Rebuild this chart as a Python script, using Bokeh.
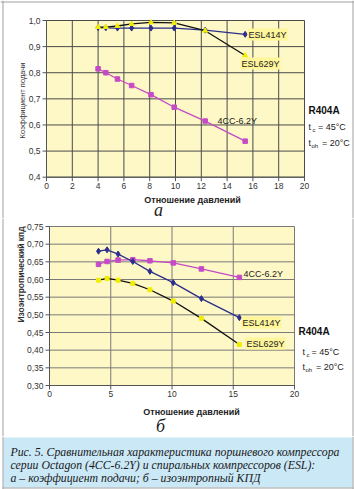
from math import pi
from bokeh.plotting import figure
from bokeh.models import Range1d, Label, Span
from bokeh.core.properties import value
from bokeh.layouts import column
from bokeh.embed import file_html
from bokeh.resources import INLINE

# ---------------- data: chart a (volumetric efficiency) ----------------
x_a = [4.0, 4.6, 5.5, 6.6, 8.1, 9.9, 12.3, 15.4]
esl414_a = [0.973, 0.972, 0.971, 0.971, 0.971, 0.971, 0.963, 0.947]
esl629_a = [0.975, 0.975, 0.979, 0.987, 0.993, 0.991, 0.961, 0.866]
cc4_a = [0.815, 0.800, 0.776, 0.751, 0.716, 0.668, 0.615, 0.538]
x_ticks_a = [0, 2, 4, 6, 8, 10, 12, 14, 16, 18, 20]
x_labels_a = ["0", "2", "4", "6", "8", "10", "12", "14", "16", "18", "20"]
y_ticks_a = [0.4, 0.5, 0.6, 0.7, 0.8, 0.9, 1.0]
y_labels_a = ["0,4", "0,5", "0,6", "0,7", "0,8", "0,9", "1,0"]

# ---------------- data: chart b (isentropic efficiency) ----------------
x_b = [4.0, 4.7, 5.6, 6.8, 8.2, 10.1, 12.4, 15.5]
esl414_b = [0.680, 0.684, 0.672, 0.651, 0.623, 0.591, 0.546, 0.492]
esl629_b = [0.598, 0.603, 0.598, 0.589, 0.571, 0.539, 0.490, 0.416]
cc4_b = [0.643, 0.651, 0.655, 0.656, 0.653, 0.647, 0.630, 0.606]
x_ticks_b = [0, 5, 10, 15, 20]
x_labels_b = ["0", "5", "10", "15", "20"]
y_ticks_b = [0.30, 0.35, 0.40, 0.45, 0.50, 0.55, 0.60, 0.65, 0.70, 0.75]
y_labels_b = ["0,30", "0,35", "0,40", "0,45", "0,50", "0,55", "0,60", "0,65", "0,70", "0,75"]

caption_lines = [
    "Рис. 5. Сравнительная характеристика поршневого компрессора",
    "серии Octagon (4CC-6.2Y) и спиральных компрессоров (ESL):",
    "а \u2013 коэффициент подачи; б \u2013 изоэнтропный КПД",
]

BLUE = "#2B2F8C"
MAGENTA = "#C64AC6"
YEL = "#F2EE00"
PLOT_BG = "#FDF8C6"
HILITE = "#FFF59A"
CAP_BG = "#CBE8F7"
FRAME_GRAY = "#a0a0a0"
SANS = "Liberation Sans"
SERIF = "Liberation Serif"
W = 354


class Chart:
    """A figure whose frame fills the whole canvas; the data box sits at a pixel box."""

    def __init__(self, H, box, xlim, ylim):
        l, r, t, b = box
        self.l, self.t = l, t
        self.xlim, self.ylim = xlim, ylim
        self.sx = (r - l) / (xlim[1] - xlim[0])
        self.sy = (b - t) / (ylim[1] - ylim[0])
        xr = Range1d(xlim[0] - l / self.sx, xlim[1] + (W - r) / self.sx)
        yr = Range1d(ylim[0] - (H - b) / self.sy, ylim[1] + t / self.sy)
        self.p = figure(width=W, height=H, x_range=xr, y_range=yr,
                        output_backend="svg", toolbar_location=None,
                        x_axis_type=None, y_axis_type=None,
                        min_border=0, min_border_left=0, min_border_right=0,
                        min_border_top=0, min_border_bottom=0,
                        background_fill_color="white", border_fill_color="white",
                        outline_line_color=None, frame_align=False)
        self.p.grid.visible = False

    def X(self, px):
        return self.xlim[0] + (px - self.l) / self.sx

    def Y(self, py):
        return self.ylim[1] - (py - self.t) / self.sy

    def label(self, px, py, text, size="9px", style="normal", font=SANS, align="left",
              angle=0.0, bg=None, color="#222222"):
        kw = {}
        if bg is not None:
            kw = dict(background_fill_color=bg, padding=1)
        self.p.add_layout(Label(x=self.X(px), y=self.Y(py), text=text, text_font=font,
                                text_font_size=size, text_font_style=style,
                                text_align=align, text_baseline="middle", angle=angle,
                                text_color=color, **kw))

    def vspan(self, px):
        self.p.add_layout(Span(location=self.X(px), dimension="height",
                               line_color=FRAME_GRAY, line_width=1))

    def hspan(self, py):
        self.p.add_layout(Span(location=self.Y(py), dimension="width",
                               line_color=FRAME_GRAY, line_width=1))

    def axes_back(self, xt, yt, grid_color):
        p = self.p
        x0, x1 = xt[0], xt[-1]
        y0, y1 = yt[0], yt[-1]
        p.quad(left=[x0], right=[x1], bottom=[y0], top=[y1],
               fill_color=PLOT_BG, line_color=None)
        p.segment(x0=xt, y0=[y0] * len(xt), x1=xt, y1=[y1] * len(xt),
                  line_color=grid_color, line_width=1)
        p.segment(x0=[x0] * len(yt), y0=yt, x1=[x1] * len(yt), y1=yt,
                  line_color=grid_color, line_width=1)

    def axes_front(self, xt, xl, yt, yl):
        p = self.p
        x0, x1 = xt[0], xt[-1]
        y0, y1 = yt[0], yt[-1]
        axc = "#555555"
        p.segment(x0=[x0], y0=[y0], x1=[x0], y1=[y1], line_color=axc, line_width=1)
        p.segment(x0=[x0], y0=[y0], x1=[x1], y1=[y0], line_color=axc, line_width=1)
        tx = 4 / self.sx
        ty = 4 / self.sy
        p.segment(x0=[x0 - tx] * len(yt), y0=yt, x1=[x0] * len(yt), y1=yt,
                  line_color=axc, line_width=1)
        p.segment(x0=xt, y0=[y0 - ty] * len(xt), x1=xt, y1=[y0] * len(xt),
                  line_color=axc, line_width=1)
        p.text(x=[x0 - 6 / self.sx] * len(yt), y=yt, text=yl,
               text_font=value(SANS), text_font_size=value("8.5px"),
               text_align="right", text_baseline="middle", text_color="#333333")
        p.text(x=xt, y=[y0 - 5.5 / self.sy] * len(xt), text=xl,
               text_font=value(SANS), text_font_size=value("8.5px"),
               text_align="center", text_baseline="top", text_color="#333333")

    def series(self, xs, ys, line_color, marker, msize, mcolor):
        self.p.line(xs, ys, line_color=line_color, line_width=1.3)
        self.p.scatter(xs, ys, marker=marker, size=msize, fill_color=mcolor,
                       line_color=mcolor)


# ================= chart a =================
A = Chart(218, (46, 304, 20, 176.7), (x_ticks_a[0], x_ticks_a[-1]),
          (y_ticks_a[0], y_ticks_a[-1]))
A.axes_back(x_ticks_a, y_ticks_a, "#4a4a4a")
A.series(x_a, cc4_a, MAGENTA, "square", 4.5, MAGENTA)
A.series(x_a, esl414_a, BLUE, "diamond", 6, BLUE)
A.series(x_a, esl629_a, "#111111", "triangle", 5, YEL)
A.axes_front(x_ticks_a, x_labels_a, y_ticks_a, y_labels_a)

A.label(247, 34, "ESL414Y", bg=HILITE)
A.label(240, 63, "ESL629Y", bg=HILITE)
A.label(217, 120, "4CC-6.2Y")
A.label(308, 110, "R404A", size="10px", style="bold", color="#111111")
A.label(308, 126, "t")
A.label(312, 129, "c", size="6px")
A.label(317.5, 126, "= 45°C")
A.label(308, 142, "t")
A.label(311, 145, "oh", size="6px")
A.label(321.5, 142, "= 20°C")
A.label(192, 199, "Отношение давлений", style="bold", align="center")
A.label(158, 209, "а", size="18px", style="italic", font=SERIF, align="center")
A.label(22, 100, "Коэффициент подачи", size="7.5px", align="center", angle=pi / 2,
        color="#333333")
A.vspan(2.5)
A.vspan(352.5)
A.hspan(1.5)

# ================= chart b =================
B = Chart(218, (49, 294, 8, 167), (x_ticks_b[0], x_ticks_b[-1]),
          (y_ticks_b[0], y_ticks_b[-1]))
B.axes_back(x_ticks_b, y_ticks_b, "#7a7a7a")
B.series(x_b, cc4_b, MAGENTA, "square", 4.5, MAGENTA)
B.series(x_b, esl414_b, BLUE, "diamond", 6, BLUE)
B.series(x_b, esl629_b, "#111111", "square", 4, YEL)
B.axes_front(x_ticks_b, x_labels_b, y_ticks_b, y_labels_b)

B.label(243, 55, "4CC-6.2Y")
B.label(241, 104, "ESL414Y", bg=HILITE)
B.label(245, 125, "ESL629Y", bg=HILITE)
B.label(298, 113, "R404A", size="10px", style="bold", color="#111111")
B.label(302, 133, "t")
B.label(306, 136, "c", size="6px")
B.label(311, 133, "= 45°C")
B.label(302, 148, "t")
B.label(305, 151, "oh", size="6px")
B.label(315.5, 148, "= 20°C")
B.label(191, 193, "Отношение давлений", style="bold", align="center")
B.label(160, 207, "б", size="18px", style="italic", font=SERIF, align="center")
B.label(20, 56, "Изоэнтропический кпд", size="8.5px", style="bold", align="center",
        angle=pi / 2, color="#333333")
B.vspan(2.5)
B.vspan(352.5)

# ================= caption =================
pc = figure(width=W, height=53, x_range=Range1d(0, W), y_range=Range1d(489, 436),
            output_backend="svg", toolbar_location=None, x_axis_type=None, y_axis_type=None,
            min_border=0, min_border_left=0, min_border_right=0, min_border_top=0,
            min_border_bottom=0, background_fill_color="white", border_fill_color="white",
            outline_line_color=None, frame_align=False)
pc.grid.visible = False
pc.quad(left=[3], right=[352], top=[437], bottom=[487], fill_color=CAP_BG, line_color=None)
for xs in (2.5, 352.5):
    pc.add_layout(Span(location=xs, dimension="height", line_color=FRAME_GRAY, line_width=1))
pc.segment(x0=[2], y0=[487.5], x1=[353], y1=[487.5], line_color=FRAME_GRAY, line_width=1)
for i, line in enumerate(caption_lines):
    pc.add_layout(Label(x=10, y=451 + 13 * i, text=line, text_font=SERIF,
                        text_font_size="11.8px", text_font_style="italic",
                        text_baseline="middle", text_color="#1a1a1a"))

layout = column(A.p, B.p, pc, spacing=0)
open("out.html", "w").write(file_html(layout, INLINE))
